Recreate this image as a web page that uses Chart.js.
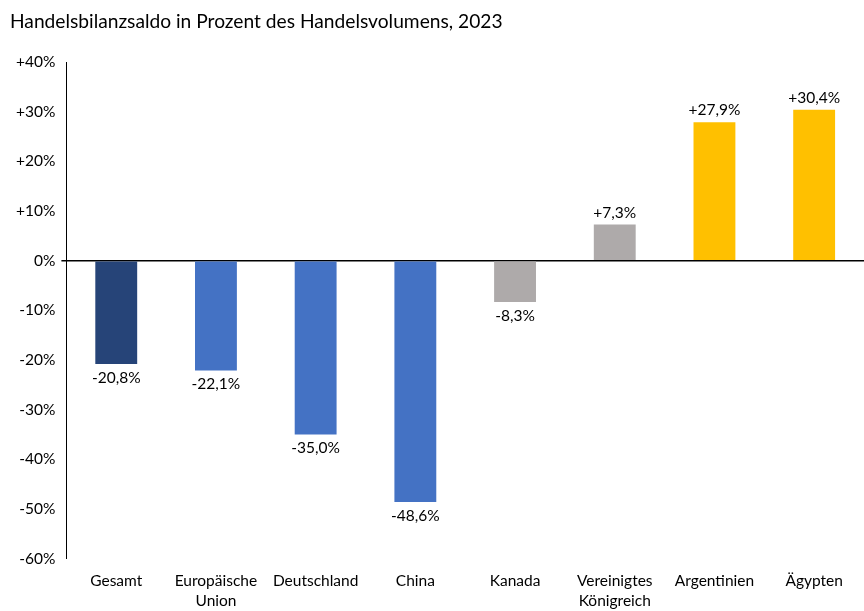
<!DOCTYPE html>
<html lang="de">
<head>
  <meta charset="UTF-8" />
  <title>Handelsbilanzsaldo</title>
  <script src="https://cdn.jsdelivr.net/npm/chart.js"></script>
  <style>
    html, body { margin: 0; padding: 0; background: #fff; }
    #box { width: 864px; height: 611px; }
  </style>
</head>
<body>
<div id="box"><canvas id="grafico"></canvas></div>
<script>
  const laender = [
    "Gesamt", ["Europäische", "Union"], "Deutschland", "China", "Kanada",
    ["Vereinigtes", "Königreich"], "Argentinien", "Ägypten"
  ];
  const saldo = [-20.8, -22.1, -35.0, -48.6, -8.3, 7.3, 27.9, 30.4];
  const farben = ["#264478", "#4472C4", "#4472C4", "#4472C4", "#AEAAAA", "#AEAAAA", "#FFC000", "#FFC000"];

  const schrift = "Lato, 'Open Sans', sans-serif";
  const fmt = v => (v > 0 ? "+" : "") + v.toFixed(1).replace(".", ",") + "%";
  const fmtTick = v => (v > 0 ? "+" : "") + v + "%";

  const wertLabels = {
    id: "wertLabels",
    afterDatasetsDraw(chart) {
      const { ctx } = chart;
      const meta = chart.getDatasetMeta(0);
      ctx.save();
      ctx.font = "15.5px " + schrift;
      ctx.fillStyle = "#000";
      ctx.textAlign = "center";
      meta.data.forEach((bar, i) => {
        const v = saldo[i];
        if (v >= 0) {
          ctx.textBaseline = "bottom";
          ctx.fillText(fmt(v), bar.x, bar.y - 4);
        } else {
          ctx.textBaseline = "top";
          ctx.fillText(fmt(v), bar.x, bar.y + 6);
        }
      });
      ctx.restore();
    }
  };

  new Chart(document.getElementById("grafico"), {
    type: "bar",
    data: {
      labels: laender,
      datasets: [{
        data: saldo,
        backgroundColor: farben,
        borderWidth: 0,
        barPercentage: 0.42,
        categoryPercentage: 1.0
      }]
    },
    options: {
      responsive: true,
      maintainAspectRatio: false,
      animation: false,
      layout: { padding: { left: 10, right: 0, top: 0, bottom: -12 } },
      plugins: {
        legend: { display: false },
        tooltip: { enabled: false },
        title: {
          display: true,
          text: "Handelsbilanzsaldo in Prozent des Handelsvolumens, 2023",
          align: "start",
          color: "#000",
          font: { family: schrift, size: 19.2, weight: "normal" },
          padding: { top: 10, bottom: 29 }
        }
      },
      scales: {
        x: {
          grid: { display: false, drawTicks: false },
          border: { display: false },
          ticks: {
            color: "#000",
            font: { family: schrift, size: 15.5, lineHeight: 1.3 },
            maxRotation: 0,
            autoSkip: false,
            padding: 12
          }
        },
        y: {
          min: -60,
          max: 40,
          ticks: {
            stepSize: 10,
            color: "#000",
            font: { family: schrift, size: 15.5 },
            callback: v => fmtTick(v),
            padding: 6
          },
          border: { display: true, color: "#000", width: 1 },
          grid: {
            drawTicks: true,
            tickLength: 5,
            tickColor: "#000",
            color: c => (c.tick && c.tick.value === 0 ? "#000" : "rgba(0,0,0,0)"),
            lineWidth: c => (c.tick && c.tick.value === 0 ? 1.5 : 0)
          }
        }
      }
    },
    plugins: [wertLabels]
  });
</script>
</body>
</html>
